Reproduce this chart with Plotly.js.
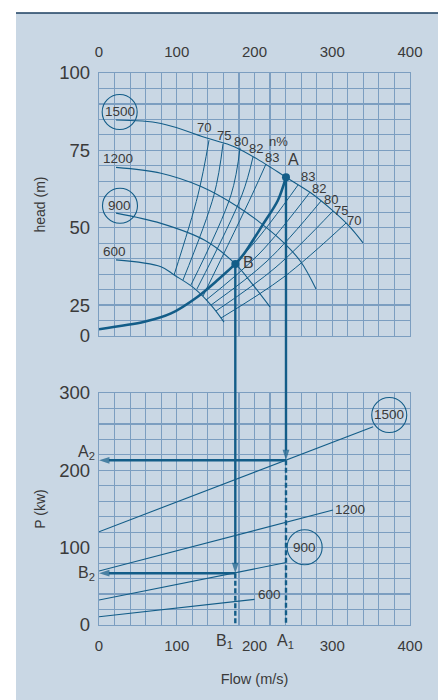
<!DOCTYPE html>
<html><head><meta charset="utf-8">
<script src="https://cdn.plot.ly/plotly-3.0.1.min.js"></script>
<style>html,body{margin:0;padding:0;background:#fff}#chart{width:438px;height:700px}</style>
</head><body><div id="chart"></div>
<script>
// ---------------- DATA ----------------
const flowTicks = [0, 100, 200, 300, 400];
const headTickVals = [15, 25, 50, 75, 100];
const headTickText = ['0', '25', '50', '75', '100'];
const powerTicks = [0, 100, 200, 300];

const speeds = ['1500', '1200', '900', '600'];
// head-flow curves per speed
const hqFlow = [
  [21.9, 79.7, 139.8, 174.0, 212.6, 240.5, 272.7, 298.4, 320.3, 339.6],
  [21.9, 79.7, 131.2, 178.4, 208.0, 237.9, 259.8, 279.1],
  [21.9, 79.7, 135.4, 175.3, 198.1, 219.9],
  [21.9, 79.7, 96.8, 122.6, 144.1, 160.8]
];
const hqHead = [
  [84.8, 83.7, 78.9, 76.2, 70.8, 66.3, 61.2, 56.0, 50.9, 45.1],
  [69.5, 67.6, 63.3, 56.8, 51.5, 45.1, 38.9, 30.2],
  [54.7, 51.4, 46.0, 38.3, 31.5, 24.4],
  [39.6, 37.4, 34.7, 30.4, 25.0, 19.5]
];

// iso-efficiency branches (levels 70, 75, 80, 82, 83)
const effLevels = ['70', '75', '80', '82', '83'];
const effLeftFlow = [[141.5, 127.3, 96.5], [159.5, 147.9, 108.0], [181.4, 169.8, 118.3], [198.1, 183.9, 126.0], [214.8, 196.8, 133.8]];
const effLeftHead = [[78.3, 60.6, 34.7], [77.1, 60.6, 33.1], [75.8, 60.6, 31.5], [72.9, 60.6, 30.2], [70.6, 60.6, 27.9]];
const effRightFlow = [[317.7, 237.9, 156.9], [301.0, 226.4, 150.5], [285.5, 216.1, 144.1], [271.4, 205.8, 137.6], [256.0, 193.6, 131.2]];
const effRightHead = [[51.5, 34.1, 20.8], [55.4, 37.0, 23.1], [58.6, 39.2, 25.0], [61.5, 41.5, 26.6], [63.8, 43.4, 28.3]];

// system curve
const sysFlow = [0, 58.3, 92.6, 126.9, 152.6, 175.3, 186.9, 210.5, 230.0, 240.5];
const sysHead = [17.2, 19.6, 22.3, 27.7, 33.1, 38.3, 41.7, 50.9, 58.8, 66.3];

// operating points
const opLabels = ['A', 'B'];
const opFlow = [240.5, 175.3];
const opHead = [66.3, 38.3];
const opPower = [213, 67];

// power lines per speed
const pFlow = [[0, 352.6], [0, 301], [0, 240.8], [0, 200]];
const pPower = [[120.6, 256.4], [69.8, 148.7], [32.3, 80.8], [10.7, 33.2]];

// ---------------- CONFIG ----------------
const W = 438, H = 700;
const BG = '#c9d7e4', GRID = '#7c9ec0', INK = '#135d88', TXT = '#3a3a3a';
const FONT = 'Liberation Sans, Arial, Helvetica, sans-serif';
const xDom = [99 / W, 410 / W];
const yDomTop = [1 - 336 / H, 1 - 73 / H];
const yDomBot = [1 - 625 / H, 1 - 393 / H];
const headRange = [15, 100];
const powerRange = [0, 300];
const flowRange = [0, 400];

// label placements (top panel in x/y, bottom in x2/y2)
const speedLabelTop = [[26.6, 87.4, true], [24.8, 72.4, false], [27.0, 57.1, true], [19.7, 42.2, false]];
const speedLabelBot = [[373.3, 271.6, true], [322.6, 149.6, false], [264.5, 100.5, true], [219.4, 38.8, false]];
const effLabelLeft = [[134.7, 82.3], [160.4, 79.7], [182.6, 77.8], [201.9, 75.7], [222.1, 72.6]];
const effLabelRight = [[328.4, 52.3], [311.3, 55.5], [298.4, 59.2], [283.3, 62.7], [269.2, 66.5]];

const traces = [];
const thin = {color: INK, width: 1.1, shape: 'spline'};

// speed curves
hqFlow.forEach((q, i) => traces.push({x: q, y: hqHead[i], xaxis: 'x', yaxis: 'y', mode: 'lines', line: thin}));
// efficiency branches
effLevels.forEach((e, i) => {
  traces.push({x: effLeftFlow[i], y: effLeftHead[i], xaxis: 'x', yaxis: 'y', mode: 'lines', line: {color: INK, width: 1, shape: 'spline'}});
  traces.push({x: effRightFlow[i], y: effRightHead[i], xaxis: 'x', yaxis: 'y', mode: 'lines', line: {color: INK, width: 1, shape: 'spline'}});
});
// system curve
traces.push({x: sysFlow, y: sysHead, xaxis: 'x', yaxis: 'y', mode: 'lines', line: {color: INK, width: 2.6, shape: 'spline', smoothing: 0.8}});
// vertical drops in top panel
opFlow.forEach((q, i) => traces.push({x: [q, q], y: [opHead[i], headRange[0]], xaxis: 'x', yaxis: 'y', mode: 'lines', line: {color: INK, width: 2.4}}));
// operating points
traces.push({x: opFlow, y: opHead, xaxis: 'x', yaxis: 'y', mode: 'markers', marker: {color: INK, size: 8}, cliponaxis: false});
// circles around speed labels
const ct = speedLabelTop.filter(p => p[2]), cb = speedLabelBot.filter(p => p[2]);
traces.push({x: ct.map(p => p[0]), y: ct.map(p => p[1]), xaxis: 'x', yaxis: 'y', mode: 'markers', cliponaxis: false,
  marker: {symbol: 'circle-open', size: 35, color: INK, line: {width: 1.1, color: INK}}});
traces.push({x: cb.map(p => p[0]), y: cb.map(p => p[1]), xaxis: 'x2', yaxis: 'y2', mode: 'markers', cliponaxis: false,
  marker: {symbol: 'circle-open', size: 35, color: INK, line: {width: 1.1, color: INK}}});
// power lines
pFlow.forEach((q, i) => traces.push({x: q, y: pPower[i], xaxis: 'x2', yaxis: 'y2', mode: 'lines', line: {color: INK, width: 1.1}}));
// dashed drops to flow axis
opFlow.forEach((q, i) => traces.push({x: [q, q], y: [opPower[i], powerRange[0]], xaxis: 'x2', yaxis: 'y2', mode: 'lines', line: {color: INK, width: 2.4, dash: '5px,2.5px'}}));
// arrows: down to power line, then left to power axis
const arrowMarker = {symbol: 'arrow', size: [0, 11], angleref: 'previous', color: INK, line: {width: 0}};
opFlow.forEach((q, i) => {
  traces.push({x: [q, q], y: [powerRange[1], opPower[i]], xaxis: 'x2', yaxis: 'y2', mode: 'lines+markers', cliponaxis: false,
    line: {color: INK, width: 2.4}, marker: arrowMarker});
  traces.push({x: [q, flowRange[0]], y: [opPower[i], opPower[i]], xaxis: 'x2', yaxis: 'y2', mode: 'lines+markers', cliponaxis: false,
    line: {color: INK, width: 2.4}, marker: arrowMarker});
});

const ann = [];
const lab = (x, y, t, xr, yr, size, extra) => Object.assign({x, y, text: t, xref: xr, yref: yr, showarrow: false, font: {size, color: TXT, family: FONT}}, extra || {});
speeds.forEach((s, i) => {
  ann.push(lab(speedLabelTop[i][0], speedLabelTop[i][1], s, 'x', 'y', 13.5));
  ann.push(lab(speedLabelBot[i][0], speedLabelBot[i][1], s, 'x2', 'y2', 13.5));
});
effLevels.forEach((e, i) => {
  ann.push(lab(effLabelLeft[i][0], effLabelLeft[i][1], e, 'x', 'y', 13));
  ann.push(lab(effLabelRight[i][0], effLabelRight[i][1], e, 'x', 'y', 13));
});
ann.push(lab(230.9, 77.8, 'n%', 'x', 'y', 13));
ann.push(lab(opFlow[0], opHead[0], opLabels[0], 'x', 'y', 16, {xshift: 8, yshift: 18}));
ann.push(lab(opFlow[1], opHead[1], opLabels[1], 'x', 'y', 16, {xshift: 13, yshift: 1}));
// axis markers
ann.push(lab(opFlow[0], 0, opLabels[0] + '<sub>1</sub>', 'x2', 'y2', 16, {yanchor: 'top', yshift: -5, xshift: 0}));
ann.push(lab(opFlow[1], 0, opLabels[1] + '<sub>1</sub>', 'x2', 'y2', 16, {yanchor: 'top', yshift: -5, xshift: -11}));
ann.push(lab(0, opPower[0], opLabels[0] + '<sub>2</sub>', 'x2', 'y2', 16, {xanchor: 'right', xshift: -2, yshift: 8}));
ann.push(lab(0, opPower[1], opLabels[1] + '<sub>2</sub>', 'x2', 'y2', 16, {xanchor: 'right', xshift: -2, yshift: 0}));

const shapes = [
  {type: 'rect', xref: 'paper', yref: 'paper', x0: 16 / W, x1: 1, y0: 0, y1: 1 - 13 / H, fillcolor: BG, line: {width: 0}, layer: 'below'},
  {type: 'line', xref: 'paper', yref: 'paper', x0: 16 / W, x1: 1, y0: 1 - 13 / H, y1: 1 - 13 / H, line: {color: '#1b3f60', width: 1.5}}
];
opFlow.forEach(q => shapes.push({type: 'line', xref: 'x', yref: 'paper', x0: q, x1: q, y0: yDomBot[1], y1: yDomTop[0], line: {color: INK, width: 2.4}}));

const gridStyle = {showgrid: true, gridcolor: GRID, gridwidth: 1.2};
const axBase = {showgrid: false, zeroline: false, showline: true, mirror: true, linecolor: GRID, linewidth: 1.2,
  ticks: '', tickfont: {size: 15, color: TXT, family: FONT}};

const layout = {
  width: W, height: H, margin: {l: 0, r: 0, t: 0, b: 0}, showlegend: false,
  paper_bgcolor: '#ffffff', plot_bgcolor: 'rgba(0,0,0,0)', font: {family: FONT, color: TXT},
  xaxis: Object.assign({}, axBase, {domain: xDom, anchor: 'y', side: 'top', range: flowRange, tickmode: 'array', tickvals: flowTicks, ticktext: flowTicks.map(String),
    ticklabelstandoff: 9, minor: Object.assign({tick0: 0, dtick: 20}, gridStyle)}),
  yaxis: Object.assign({}, axBase, {domain: yDomTop, anchor: 'x', range: headRange, tickmode: 'array', tickvals: headTickVals, ticktext: headTickText,
    tickfont: {size: 18.5, color: TXT, family: FONT}, ticklabelstandoff: 4,
    minor: Object.assign({tick0: 15, dtick: 5}, gridStyle),
    title: {text: 'head (m)', font: {size: 14, color: TXT, family: FONT}, standoff: 10}}),
  xaxis2: Object.assign({}, axBase, {domain: xDom, anchor: 'y2', range: flowRange, tickmode: 'array', tickvals: flowTicks, ticktext: flowTicks.map(String),
    ticklabelstandoff: 7, minor: Object.assign({tick0: 0, dtick: 20}, gridStyle),
    title: {text: 'Flow (m/s)', font: {size: 14.5, color: TXT, family: FONT}, standoff: 20}}),
  yaxis2: Object.assign({}, axBase, {domain: yDomBot, anchor: 'x2', range: powerRange, tickmode: 'array', tickvals: powerTicks, ticktext: powerTicks.map(String),
    tickfont: {size: 18.5, color: TXT, family: FONT}, ticklabelstandoff: 4,
    minor: Object.assign({tick0: 0, dtick: 20}, gridStyle),
    title: {text: 'P (kw)', font: {size: 14, color: TXT, family: FONT}, standoff: 10}}),
  annotations: ann, shapes: shapes
};

Plotly.newPlot('chart', traces, layout, {staticPlot: true, displayModeBar: false});
</script></body></html>
